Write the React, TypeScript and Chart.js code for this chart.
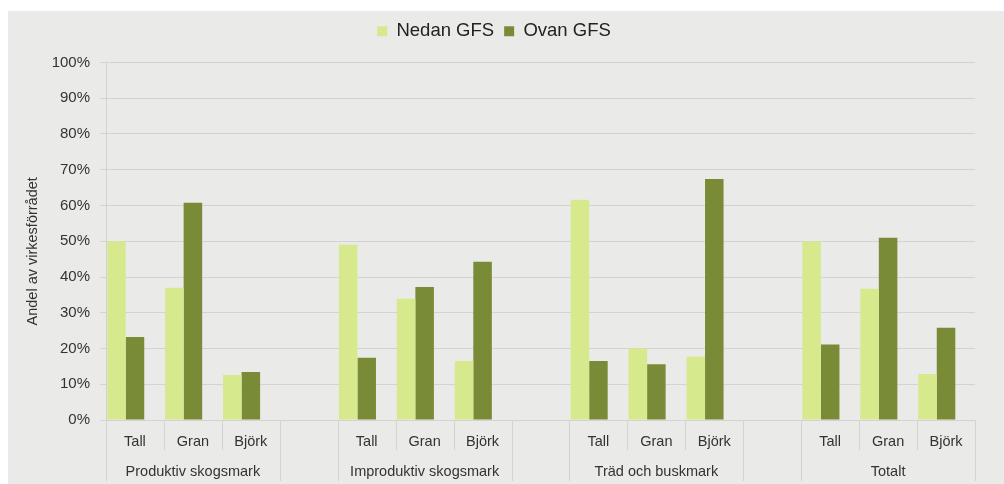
import React, { useEffect, useRef } from 'react';
import { Chart, registerables } from 'chart.js';

Chart.register(...registerables);

const categories = ['Tall', 'Gran', 'Björk', '', 'Tall', 'Gran', 'Björk', '', 'Tall', 'Gran', 'Björk', '', 'Tall', 'Gran', 'Björk'];
const groupLabels = ['', 'Produktiv skogsmark', '', '', '', 'Improduktiv skogsmark', '', '', '', 'Träd och buskmark', '', '', '', 'Totalt', ''];
const nedanGFS = [50, 37, 12.6, null, 49, 33.9, 16.5, null, 61.6, 20, 17.7, null, 49.9, 36.7, 12.9];
const ovanGFS = [23.2, 60.8, 13.4, null, 17.4, 37.2, 44.3, null, 16.5, 15.6, 67.4, null, 21.1, 51, 25.8];
const seriesNames = ['Nedan GFS', 'Ovan GFS'];
const yTitle = 'Andel av virkesförrådet';

const FONT = '"Liberation Sans", Arial, Helvetica, sans-serif';
const TEXT = '#333333';
const GRID = '#d3d3d1';

const legendSpacer = {
  id: 'legendSpacer',
  beforeLayout(chart: any) {
    const lg: any = chart.legend;
    if (lg && !lg.__patched) {
      const orig = lg.fit.bind(lg);
      lg.fit = function () {
        orig();
        this.height += 12;
      };
      lg.__patched = true;
    }
  },
};

const separators = {
  id: 'separators',
  afterDraw(chart: any) {
    const xs = chart.scales.x;
    const x2 = chart.scales.x2;
    const n = categories.length;
    const slot = (xs.right - xs.left) / n;
    const ctx = chart.ctx;
    ctx.save();
    ctx.strokeStyle = GRID;
    ctx.lineWidth = 1;
    for (let i = 0; i <= n; i++) {
      const x = Math.round(xs.left + i * slot) + 0.5;
      const long = i === 0 || i === n || categories[i - 1] === '' || categories[i] === '';
      const y0 = xs.top;
      const y1 = long ? x2.bottom - 3 : xs.bottom;
      ctx.beginPath();
      ctx.moveTo(x, y0);
      ctx.lineTo(x, y1);
      ctx.stroke();
    }
    ctx.restore();
  },
};

export default function App() {
  const ref = useRef<HTMLCanvasElement | null>(null);

  useEffect(() => {
    if (!ref.current) return;
    Chart.defaults.font.family = FONT;
    const chart = new Chart(ref.current, {
      type: 'bar',
      data: {
        labels: categories,
        datasets: [
          { label: seriesNames[0], data: nedanGFS, backgroundColor: '#d7e98d', borderWidth: 0 },
          { label: seriesNames[1], data: ovanGFS, backgroundColor: '#7a8b38', borderWidth: 0 },
          { label: '', data: categories.map(() => null), backgroundColor: 'rgba(0,0,0,0)', borderWidth: 0 },
        ],
      },
      options: {
        animation: false,
        responsive: true,
        maintainAspectRatio: false,
        layout: { padding: { top: 1, left: 5, right: 29, bottom: 0 } },
        datasets: { bar: { barPercentage: 1, categoryPercentage: 0.96 } },
        plugins: {
          tooltip: { enabled: false },
          legend: {
            position: 'top',
            labels: {
              boxWidth: 10,
              boxHeight: 10,
              padding: 10,
              color: '#222',
              font: { size: 18.5, family: FONT },
              filter: (item: any) => item.text !== '',
            },
          },
        },
        scales: {
          x: {
            type: 'category',
            position: 'bottom',
            weight: 0,
            grid: { display: false },
            border: { display: false },
            ticks: { autoSkip: false, maxRotation: 0, minRotation: 0, padding: 5, color: TEXT, font: { size: 14.5, family: FONT } },
            afterFit: (s: any) => { s.height = 30; },
          },
          x2: {
            type: 'category',
            position: 'bottom',
            labels: groupLabels,
            offset: true,
            weight: 1,
            grid: { display: false },
            border: { display: false },
            ticks: { autoSkip: false, maxRotation: 0, minRotation: 0, padding: 5, color: TEXT, font: { size: 14.5, family: FONT } },
            afterFit: (s: any) => { s.height = 34; },
          },
          y: {
            min: 0,
            max: 100,
            ticks: {
              stepSize: 10,
              padding: 10,
              color: TEXT,
              font: { size: 15, family: FONT },
              callback: (v: any) => `${v}%`,
            },
            grid: { color: GRID, lineWidth: 1, tickLength: 6, drawTicks: true },
            border: { display: true, color: GRID },
            title: {
              display: true,
              text: yTitle + '     ',
              color: TEXT,
              font: { size: 14.5, family: FONT },
              padding: { top: 11, bottom: 0 },
            },
            afterFit: (s: any) => { s.width = 93; },
          },
        },
      } as any,
      plugins: [legendSpacer, separators],
    });
    return () => chart.destroy();
  }, []);

  return (
    <div style={{ position: 'fixed', left: 8, top: 11, width: 996, height: 473, background: '#eaeae8' }}>
      <canvas ref={ref} />
    </div>
  );
}
